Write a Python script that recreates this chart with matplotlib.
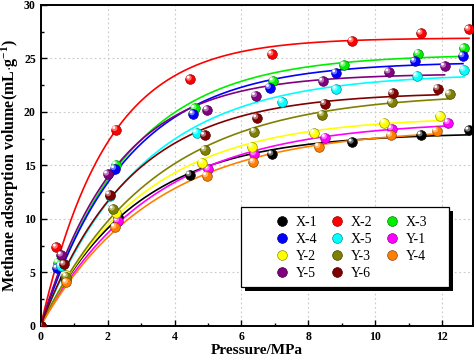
import numpy as np
import matplotlib
matplotlib.use("Agg")
import matplotlib.pyplot as plt
from matplotlib.transforms import offset_copy
from matplotlib.lines import Line2D
from matplotlib.patches import Rectangle
from matplotlib.colors import to_rgb

plt.rcParams['font.family'] = ['Liberation Serif', 'DejaVu Serif']
plt.rcParams['mathtext.fontset'] = 'custom'
plt.rcParams['mathtext.rm'] = 'Liberation Serif:bold'
plt.rcParams['mathtext.bf'] = 'Liberation Serif:bold'
plt.rcParams['mathtext.default'] = 'bf'

# Adsorption data (pressure MPa, volume mL/g)
labels = ['X-1', 'X-2', 'X-3', 'X-4', 'X-5', 'Y-1', 'Y-2', 'Y-3', 'Y-4', 'Y-5', 'Y-6']
colors = ['#000000', '#ff0000', '#00ee00', '#0000ff', '#00ffff', '#ff00ff',
          '#ffff00', '#808000', '#ff8000', '#800080', '#800000']

p_x1 = [0, 0.72, 2.32, 4.46, 6.91, 9.31, 11.37, 12.80]
v_x1 = [0, 4.5, 10.2, 14.10, 16.03, 17.16, 17.84, 18.28]
p_x2 = [0, 0.47, 2.25, 4.47, 6.91, 9.31, 11.37, 12.80]
v_x2 = [0, 7.33, 18.34, 23.05, 25.39, 26.63, 27.35, 27.72]
p_x3 = [0, 0.52, 2.25, 4.61, 6.95, 9.07, 11.29, 12.65]
v_x3 = [0, 5.9, 15.05, 20.33, 22.89, 24.36, 25.45, 25.95]
p_x4 = [0, 0.49, 2.21, 4.56, 6.84, 8.82, 11.18, 12.62]
v_x4 = [0, 5.37, 14.68, 19.80, 22.27, 23.64, 24.73, 25.23]
p_x5 = [0, 0.6, 2.07, 4.66, 7.22, 8.83, 11.25, 12.65]
v_x5 = [0, 5.6, 12.1, 18.05, 20.95, 22.11, 23.36, 23.92]
p_y1 = [0, 0.75, 2.3, 5.01, 6.39, 8.51, 10.49, 12.18]
v_y1 = [0, 4.3, 9.8, 14.63, 16.06, 17.59, 18.43, 18.99]
p_y2 = [0, 0.75, 2.25, 4.83, 6.32, 8.17, 10.27, 11.94]
v_y2 = [0, 4.7, 10.5, 15.25, 16.74, 18.0, 18.99, 19.62]
p_y3 = [0, 0.77, 2.17, 4.91, 6.39, 8.42, 10.49, 12.22]
v_y3 = [0, 4.6, 10.9, 16.44, 18.15, 19.74, 20.90, 21.67]
p_y4 = [0, 0.77, 2.22, 4.96, 6.36, 8.31, 10.46, 11.83]
v_y4 = [0, 4.05, 9.22, 14.03, 15.31, 16.74, 17.81, 18.21]
p_y5 = [0, 0.62, 2.0, 4.98, 6.42, 8.43, 10.41, 12.07]
v_y5 = [0, 6.6, 14.17, 20.18, 21.51, 22.86, 23.73, 24.27]
p_y6 = [0, 0.7, 2.06, 4.90, 6.46, 8.49, 10.52, 11.87]
v_y6 = [0, 5.75, 12.24, 17.81, 19.43, 20.77, 21.74, 22.17]

pressures = [p_x1, p_x2, p_x3, p_x4, p_x5, p_y1, p_y2, p_y3, p_y4, p_y5, p_y6]
volumes = [v_x1, v_x2, v_x3, v_x4, v_x5, v_y1, v_y2, v_y3, v_y4, v_y5, v_y6]


def fit_curve(p, v):
    # least-squares fit of v = a*(1 - exp(-b*p)) to the measured points
    p = np.asarray(p, float)
    v = np.asarray(v, float)
    best = None
    for b in np.linspace(0.05, 2.0, 2000):
        f = 1 - np.exp(-b * p)
        a = np.sum(f * v) / np.sum(f * f)
        err = np.sum((a * f - v) ** 2)
        if best is None or err < best[0]:
            best = (err, a, b)
    pp = np.linspace(0, p.max(), 300)
    return pp, best[1] * (1 - np.exp(-best[2] * pp))


def mix(c, w, t):
    c = np.array(to_rgb(c))
    return tuple(c + (np.array(to_rgb(w)) - c) * t)


fig = plt.figure(figsize=(4.77, 3.62), dpi=100)
ax = fig.add_axes([0.0853, 0.1003, 0.9063, 0.8859])

for p, v, c in zip(pressures, volumes, colors):
    pp, vv = fit_curve(p, v)
    ax.plot(pp, vv, color=c, lw=1.2, zorder=2)

for i, (p, v, c) in enumerate(zip(pressures, volumes, colors)):
    z = 3 + i * 0.01
    ax.scatter(p, v, s=48, color=c, edgecolors=mix(c, 'black', 0.45),
               linewidths=0.5, zorder=z)
    ax.scatter(p, v, s=16, color=mix(c, 'white', 0.45), edgecolors='none', zorder=z + 0.002,
               transform=offset_copy(ax.transData, fig, x=-1.0, y=1.0, units='points'))
    ax.scatter(p, v, s=4, color='white', edgecolors='none', zorder=z + 0.004,
               transform=offset_copy(ax.transData, fig, x=-1.5, y=1.5, units='points'))

ax.set_xlim(0, 12.92)
ax.set_ylim(0, 30)
ax.set_xticks(np.arange(0, 13, 2))
ax.set_xticks(np.arange(1, 13, 2), minor=True)
ax.set_yticks(np.arange(0, 31, 5))
ax.set_yticks(np.arange(2.5, 30, 5), minor=True)
ax.tick_params(which='both', direction='in', width=1.0, labelsize=8.5)
ax.tick_params(which='major', length=4)
ax.tick_params(which='minor', length=2)
for lab in ax.get_xticklabels() + ax.get_yticklabels():
    lab.set_fontweight('bold')
for s in ax.spines.values():
    s.set_linewidth(1.4)
ax.grid(True, which='major', ls=(0, (1.5, 2.5)), color='#c8c8c8', lw=0.8)
ax.set_axisbelow(True)

ax.set_xlabel('Pressure/MPa', fontsize=11, fontweight='bold', labelpad=1)
ax.set_ylabel(r'Methane adsorption volume(mL$\cdot$g$^{-1}$)', fontsize=11.5,
              fontweight='bold', labelpad=2)

# legend box with solid black shadow
bx0, by0, bw, bh = 0.4626, 0.1197, 0.4819, 0.2513
ax.add_patch(Rectangle((bx0 + 0.009, by0 - 0.013), bw, bh, transform=ax.transAxes,
                       facecolor='black', edgecolor='none', zorder=6))
ax.add_patch(Rectangle((bx0, by0), bw, bh, transform=ax.transAxes,
                       facecolor='white', edgecolor='black', lw=0.9, zorder=6.5))

order = [0, 3, 6, 9, 1, 4, 7, 10, 2, 5, 8]
handles = [Line2D([], [], ls='none', marker='o', markersize=7, color=colors[k],
                  markeredgecolor=mix(colors[k], 'black', 0.45), markeredgewidth=0.5)
           for k in order]
leg = ax.legend(handles, [labels[k] for k in order], ncol=3, loc='center',
                bbox_to_anchor=(0.719, 0.242), frameon=False, fontsize=10,
                labelspacing=0.3, handlelength=0.8, handletextpad=0.6,
                columnspacing=1.0, borderpad=0)
leg.set_zorder(7)

fig.savefig('out.png', dpi=100)
